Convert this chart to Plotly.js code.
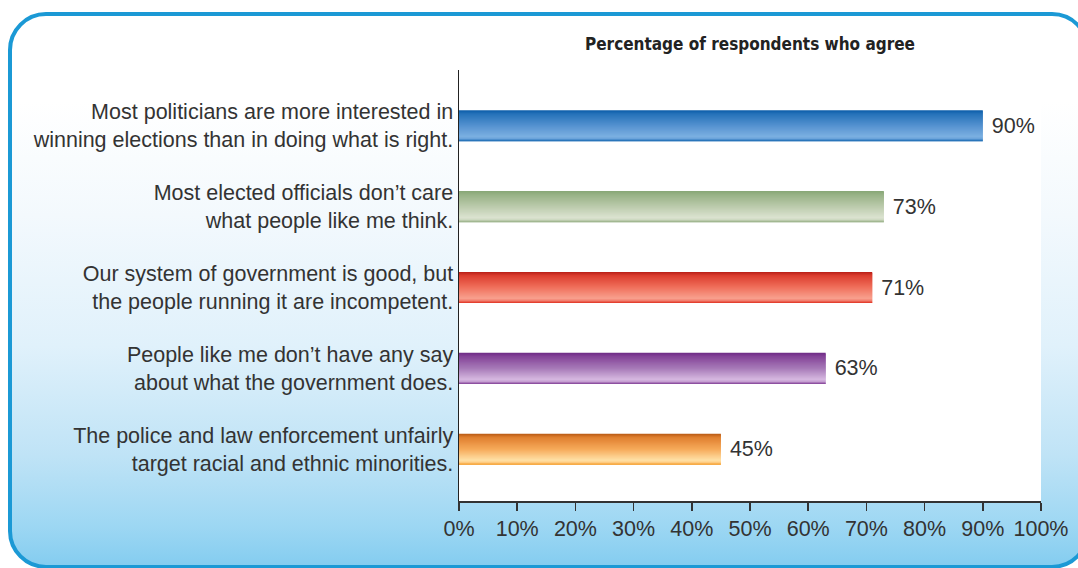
<!DOCTYPE html>
<html>
<head>
<meta charset="utf-8">
<script src="https://cdn.plot.ly/plotly-3.0.1.min.js"></script>
<style>
  html, body { margin: 0; padding: 0; width: 1078px; height: 568px; overflow: hidden; background: #ffffff; }
  #frame {
    position: absolute; left: 8px; top: 12px; width: 1082px; height: 557px;
    box-sizing: border-box; border: 4.5px solid #1b99d5; border-radius: 38px;
    background: linear-gradient(to bottom, #ffffff 0px, #ffffff 85px, #f3f9fd 200px, #e0f1fb 330px, #bfe3f6 440px, #9dd7f3 510px, #80cbef 556px);
  }
  #chart { position: absolute; left: 0; top: 0; width: 1078px; height: 568px; }
</style>
</head>
<body>
<div id="frame"></div>
<div id="chart"></div>
<script>
// ---- data ----
const statements = [
  "Most politicians are more interested in<br>winning elections than in doing what is right.",
  "Most elected officials don’t care<br>what people like me think.",
  "Our system of government is good, but<br>the people running it are incompetent.",
  "People like me don’t have any say<br>about what the government does.",
  "The police and law enforcement unfairly<br>target racial and ethnic minorities."
];
const agreePct = [90, 73, 71, 63, 45];
const xTickVals = [0, 10, 20, 30, 40, 50, 60, 70, 80, 90, 100];
const xTickText = ["0%", "10%", "20%", "30%", "40%", "50%", "60%", "70%", "80%", "90%", "100%"];
const chartTitle = "Percentage of respondents who agree";

// ---- styling: vertical gradient stops per bar (top -> bottom) ----
const gradStops = [
  [[0, "#0b5ca8"], [0.12, "#2672b9"], [0.5, "#5592d0"], [0.85, "#7cb0e1"], [0.92, "#6aa3da"], [1, "#0f62ad"]],
  [[0, "#87a676"], [0.12, "#98b286"], [0.5, "#bccbad"], [0.85, "#dbe3d0"], [0.92, "#cdd8c0"], [1, "#8faa7e"]],
  [[0, "#b81e16"], [0.12, "#dc3d2e"], [0.5, "#f0705c"], [0.85, "#f8a08e"], [0.92, "#f28070"], [1, "#e03020"]],
  [[0, "#6e2c86"], [0.12, "#844398"], [0.5, "#a77ab8"], [0.85, "#d6b8e0"], [0.92, "#c6a0d2"], [1, "#7e3c94"]],
  [[0, "#b85a14"], [0.12, "#e08030"], [0.5, "#f6aa5a"], [0.85, "#ffe0a6"], [0.92, "#ffd08a"], [1, "#f3961e"]]
];

function hex2rgb(h) { return [parseInt(h.substr(1,2),16), parseInt(h.substr(3,2),16), parseInt(h.substr(5,2),16)]; }
function interp(stops, t) {
  for (let i = 0; i < stops.length - 1; i++) {
    const [t0, c0] = stops[i], [t1, c1] = stops[i+1];
    if (t >= t0 && t <= t1) {
      const f = (t - t0) / (t1 - t0), a = hex2rgb(c0), b = hex2rgb(c1);
      return "rgb(" + a.map((v, k) => Math.round(v + (b[k]-v)*f)).join(",") + ")";
    }
  }
  return stops[stops.length-1][1];
}

const W = 0.385;      // bar thickness in category units
const N = 31;         // stripes for gradient effect (~1px each)
const traces = [];
for (let i = 0; i < N; i++) {
  const t = (i + 0.5) / N;
  const sw = W / N;
  traces.push({
    type: "bar", orientation: "h",
    x: agreePct, y: statements,
    offset: -W/2 + i*sw,
    width: (i === N-1) ? sw : sw * 2,
    marker: { color: gradStops.map(s => interp(s, t)), line: { width: 0 } },
    hoverinfo: "skip", showlegend: false
  });
}
// label trace
traces.push({
  type: "bar", orientation: "h",
  x: agreePct, y: statements,
  offset: -W/2, width: W,
  marker: { color: "rgba(0,0,0,0)", line: { width: 0 } },
  text: agreePct.map(v => " " + v + "%"),
  textposition: "outside", constraintext: "none", cliponaxis: false,
  textfont: { family: "Liberation Sans, Arial, sans-serif", size: 21.5, color: "#333333" },
  hoverinfo: "skip", showlegend: false
});

const layout = {
  width: 1078, height: 568,
  margin: { l: 459, r: 37, t: 70, b: 67, pad: 0 },
  paper_bgcolor: "rgba(0,0,0,0)",
  plot_bgcolor: "#ffffff",
  barmode: "overlay",
  font: { family: "Liberation Sans, Arial, sans-serif", size: 21.5, color: "#333333" },
  title: {
    text: "<b>" + chartTitle + "</b>",
    font: { family: "Liberation Sans Narrow, Arial Narrow, DejaVu Sans Condensed, sans-serif", size: 17, color: "#222222" },
    xref: "paper", x: 0.5, xanchor: "center",
    yref: "container", y: 1 - 44/568, yanchor: "middle"
  },
  xaxis: {
    range: [0, 100], tickvals: xTickVals, ticktext: xTickText,
    showgrid: false, zeroline: false, showline: true, linecolor: "#333333", linewidth: 1.5,
    ticks: "outside", ticklen: 8, tickwidth: 1.5, tickcolor: "#333333",
    tickfont: { size: 21.5, color: "#333333" }, fixedrange: true
  },
  yaxis: {
    type: "category", categoryarray: statements,
    range: [4.64, -0.69],
    showgrid: false, zeroline: false, showline: true, linecolor: "#222222", linewidth: 1.5,
    ticks: "", tickfont: { size: 21.5, color: "#333333" }, fixedrange: true
  },
  showlegend: false
};

Plotly.newPlot("chart", traces, layout, { displayModeBar: false, staticPlot: true });
</script>
</body>
</html>
